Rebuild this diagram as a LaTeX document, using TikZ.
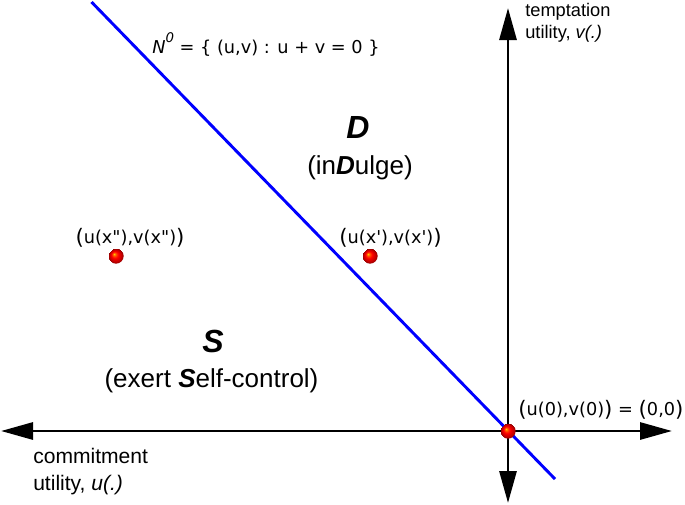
\documentclass[tikz,border=0pt]{standalone}
\usepackage{fontspec}
\setmainfont{Liberation Sans}
\newfontfamily\dv{DejaVu Sans}
\usetikzlibrary{arrows.meta}
\pgfdeclareradialshading{redball}{\pgfpoint{-7bp}{7bp}}{color(0bp)=(yellow!70!orange); color(4bp)=(orange!80!red); color(11bp)=(red); color(20bp)=(red!75!black); color(25bp)=(red!55!black)}
\newcommand{\bp}[1]{\raisebox{-0.8pt}{\fontsize{16}{16}\selectfont #1}}
\newcommand{\sq}{\textquotesingle}
\newcommand{\dq}{\textquotedbl}
\begin{document}
\begin{tikzpicture}[x=0.75pt,y=-0.75pt,
  axis/.style={line width=2.2pt,{Triangle[length=24pt,width=12.75pt]}-{Triangle[length=24pt,width=12.75pt]}},
  setline/.style={line width=2.2pt,draw=blue},
  ball/.style={circle,inner sep=0pt,minimum size=11.5pt,shading=redball},
  dvlab/.style={font=\dv\fontsize{13.3}{16}\selectfont,inner sep=0pt},
  axlabA/.style={font=\fontsize{15.8}{20}\selectfont,inner sep=0pt,anchor=base west},
  axlabB/.style={font=\fontsize{13.7}{16}\selectfont,inner sep=0pt,anchor=base west},
  region/.style={font=\fontsize{24}{28}\selectfont\bfseries\itshape,inner sep=0pt,anchor=base},
  regsub/.style={font=\fontsize{19.5}{24}\selectfont,inner sep=0pt,anchor=base}]
\useasboundingbox (0,0) rectangle (685,504);
% axes
\coordinate (hl) at (1,431);
\coordinate (hr) at (672,431);
\coordinate (vt) at (508,8);
\coordinate (vb) at (508,503);
\draw[axis] (hl) -- (hr);
\draw[axis] (vb) -- (vt);
% blue line
\coordinate (la) at (91.5,2);
\coordinate (lb) at (555,479);
\draw[setline] (la) -- (lb);
% points
\node[ball] (o) at (508,431) {};
\node[ball] (p2) at (116,256) {};
\node[ball] (p1) at (370,256) {};
% labels
\node[dvlab,anchor=base west] (ol) at (518,415) {\bp{(}u(0),v(0)\bp{)} = \bp{(}0,0\bp{)}};
\node[dvlab,anchor=base] (p2l) at (130,243) {\bp{(}u(x\dq),v(x\dq)\bp{)}};
\node[dvlab,anchor=base] (p1l) at (390.5,243) {\bp{(}u(x\sq),v(x\sq)\bp{)}};
\node[dvlab,anchor=base west] (nl) at (152,53) {\textit{N}\raisebox{1.05ex}{\fontsize{10}{10}\selectfont\textit{0}} = \{ (u,v) : u + v = 0 \}};
\node[axlabB] (t1) at (525,16) {temptation};
\node[axlabB] (t2) at (525,38) {utility, \textit{v(.)}};
\node[axlabA] (c1) at (33,463) {commitment};
\node[axlabA] (c2) at (33,490) {utility, \textit{u(.)}};
\node[region] (D) at (358,138) {D};
\node[regsub] (Dl) at (360,174.5) {(in\textbf{\textit{D}}ulge)};
\node[region] (S) at (213,352) {S};
\node[regsub] (Sl) at (211.5,387.5) {(exert \textbf{\textit{S}}elf-control)};
\end{tikzpicture}
\end{document}
